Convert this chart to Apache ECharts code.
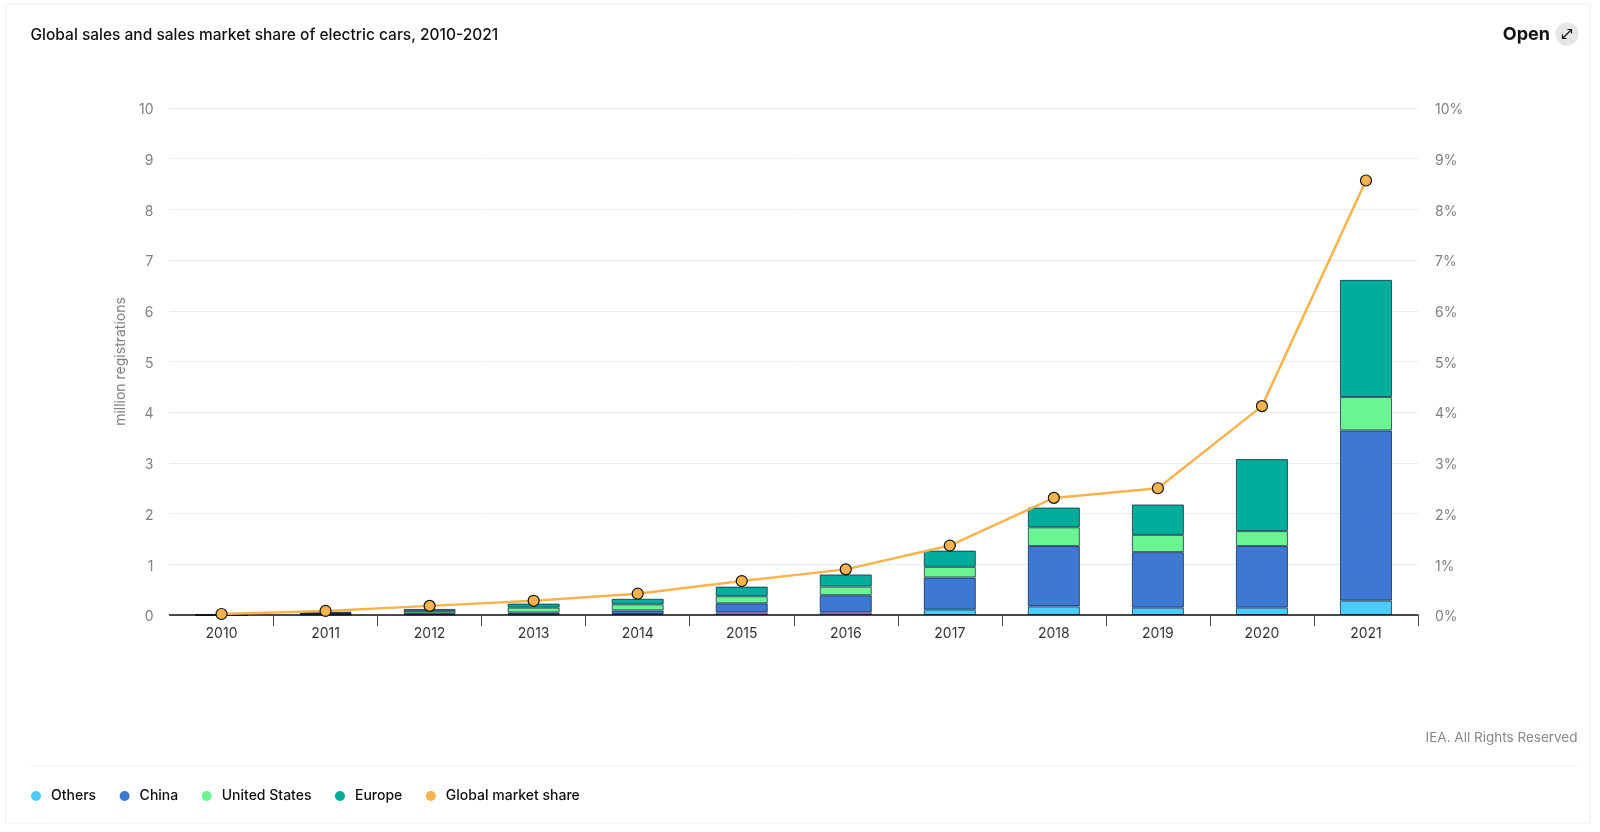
<!DOCTYPE html>
<html>
<head>
<meta charset="utf-8">
<style>html,body{margin:0;padding:0;background:#fff}#c{width:1600px;height:832px}</style>
<script src="https://cdn.jsdelivr.net/npm/echarts@6/dist/echarts.min.js"></script>
</head>
<body>
<div id="c"></div>
<script>
const years = ['2010','2011','2012','2013','2014','2015','2016','2017','2018','2019','2020','2021'];
const others = [0,0.008,0.012,0.015,0.02,0.05,0.05,0.105,0.17,0.145,0.145,0.283];
const china = [0,0.012,0.018,0.035,0.07,0.18,0.34,0.635,1.19,1.095,1.215,3.357];
const unitedStates = [0,0.018,0.05,0.095,0.12,0.14,0.17,0.21,0.37,0.34,0.295,0.66];
const europe = [0,0.027,0.04,0.08,0.11,0.19,0.24,0.32,0.39,0.6,1.42,2.31];
const marketShare = [0.02,0.08,0.18,0.28,0.42,0.67,0.9,1.37,2.31,2.5,4.12,8.57];
const yTicks = {min:0,max:10,interval:1};
const FONT = 'Inter';
const barBorder = {borderColor:'rgba(5,30,60,0.7)',borderWidth:1};
function bar(name,data,color){
  return {name,type:'bar',stack:'sales',data,barWidth:'50%',itemStyle:{color,...barBorder},z:2};
}
const chart = echarts.init(document.getElementById('c'),null,{renderer:'canvas'});
chart.setOption({
  animation:false,
  textStyle:{fontFamily:FONT},
  grid:{left:169.5,right:182,top:108,bottom:217,containLabel:false},
  legend:{
    left:26,top:784,itemWidth:10,itemHeight:10,itemGap:23.5,
    icon:'circle',
    itemStyle:{borderWidth:0},
    textStyle:{fontFamily:FONT,fontSize:14,fontWeight:500,color:'#111',padding:[0,0,0,5]},
    data:['Others','China','United States','Europe','Global market share']
  },
  xAxis:{
    type:'category',data:years,
    axisLine:{onZero:false,lineStyle:{color:'#111',width:1.5}},
    axisTick:{show:true,length:11,interval:(i)=>i>0,lineStyle:{color:'#444',width:1}},
    axisLabel:{color:'#333',fontSize:14,margin:12,fontFamily:FONT,interval:0},
    z:5
  },
  yAxis:[
    {type:'value',...yTicks,name:'million registrations',nameLocation:'middle',nameGap:41,
     nameTextStyle:{color:'#808080',fontSize:14,fontFamily:FONT},
     axisLine:{show:false},axisTick:{show:false},
     axisLabel:{color:'#808080',fontSize:14,margin:16,verticalAlign:'top',lineHeight:4,fontFamily:FONT},
     splitLine:{lineStyle:{color:'#ececec',width:1}}},
    {type:'value',...yTicks,
     axisLine:{show:false},axisTick:{show:false},
     axisLabel:{color:'#808080',fontSize:14,margin:17,verticalAlign:'top',lineHeight:4,formatter:'{value}%',fontFamily:FONT},
     splitLine:{show:false}}
  ],
  series:[
    bar('Others',others,'#4bcdfb'),
    bar('China',china,'#3f78d3'),
    bar('United States',unitedStates,'#6bf592'),
    bar('Europe',europe,'#00ac9c'),
    {name:'Global market share',type:'line',yAxisIndex:1,data:marketShare,
     symbol:'circle',symbolSize:11,showAllSymbol:true,z:6,
     lineStyle:{color:'#f8b34c',width:2.5},
     itemStyle:{color:'#f8b34c',borderColor:'#111',borderWidth:1.2}}
  ],
  graphic:[
    {type:'rect',silent:true,z:-1,shape:{x:6,y:4,width:1584,height:819},style:{fill:'#fff',stroke:'#f0f0f0',lineWidth:1}},
    {type:'line',silent:true,shape:{x1:30,y1:766,x2:1577,y2:766},style:{stroke:'#eeeeee',lineWidth:1}},
    {type:'text',silent:true,style:{x:30.5,y:35,text:'Global sales and sales market share of electric cars, 2010-2021',font:'500 15.5px Inter',fill:'#111',textVerticalAlign:'middle'}},
    {type:'text',silent:true,style:{x:1550,y:35,text:'Open',font:'700 18px Inter',fill:'#111',textAlign:'right',textVerticalAlign:'middle'}},
    {type:'circle',silent:true,shape:{cx:1567,cy:34,r:11.5},style:{fill:'#e6e6e6'}},
    {type:'line',silent:true,shape:{x1:1562.5,y1:38.5,x2:1571.5,y2:29.5},style:{stroke:'#111',lineWidth:1.2}},
    {type:'polyline',silent:true,shape:{points:[[1567.5,29.5],[1571.5,29.5],[1571.5,33.5]]},style:{stroke:'#111',lineWidth:1.2,fill:null}},
    {type:'polyline',silent:true,shape:{points:[[1562.5,34.5],[1562.5,38.5],[1566.5,38.5]]},style:{stroke:'#111',lineWidth:1.2,fill:null}},
    {type:'text',silent:true,style:{x:1577.5,y:738,text:'IEA. All Rights Reserved',font:'400 13.5px Inter',fill:'#888',textAlign:'right',textVerticalAlign:'middle'}}
  ]
});
</script>
</body>
</html>
